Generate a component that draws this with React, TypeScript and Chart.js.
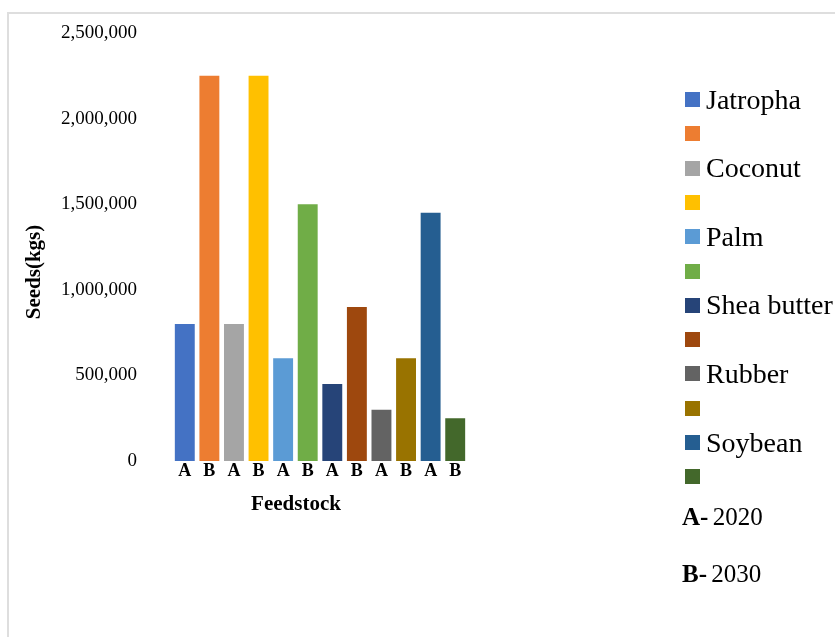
import React, { useEffect, useRef } from "react";
import { Chart, registerables } from "chart.js";

Chart.register(...registerables);

// ---- data ----
const categories = ["A", "B", "A", "B", "A", "B", "A", "B", "A", "B", "A", "B"];
const seriesNames = ["Jatropha", "", "Coconut", "", "Palm", "", "Shea butter", "", "Rubber", "", "Soybean", ""];
const seedValues = [800000, 2250000, 800000, 2250000, 600000, 1500000, 450000, 900000, 300000, 600000, 1450000, 250000];
const seriesColors = [
  "#4472C4", "#ED7D31", "#A5A5A5", "#FFC000", "#5B9BD5", "#70AD47",
  "#264478", "#9E480E", "#636363", "#997300", "#255E91", "#43682B",
];
const yMin = 0;
const yMax = 2500000;
const yStep = 500000;
const yTitle = "Seeds(kgs)";
const xTitle = "Feedstock";
const noteKeys = ["A-", "B-"];
const noteYears = ["2020", "2030"];

const SERIF = '"Liberation Serif", "Times New Roman", serif';

const overlayPlugin = {
  id: "overlayText",
  afterDraw(chart: any) {
    const ctx = chart.ctx;
    ctx.save();
    // legend
    chart.data.datasets.forEach((ds: any, i: number) => {
      const cy = 99.5 + i * 34.3;
      ctx.fillStyle = ds.backgroundColor;
      ctx.fillRect(685, Math.round(cy - 7.5), 15, 15);
      if (ds.label) {
        ctx.fillStyle = "#000";
        ctx.font = `28px ${SERIF}`;
        ctx.textAlign = "left";
        ctx.textBaseline = "alphabetic";
        ctx.fillText(ds.label, 706, cy + 9);
      }
    });
    // notes
    noteKeys.forEach((k, i) => {
      const by = 525 + i * 57;
      ctx.fillStyle = "#000";
      ctx.textAlign = "left";
      ctx.textBaseline = "alphabetic";
      ctx.font = `bold 25px ${SERIF}`;
      ctx.fillText(k, 682, by);
      const w = ctx.measureText(k + " ").width;
      ctx.font = `25px ${SERIF}`;
      ctx.fillText(noteYears[i], 682 + w - 2, by);
    });
    // x axis title
    ctx.font = `bold 21px ${SERIF}`;
    ctx.textAlign = "center";
    ctx.textBaseline = "alphabetic";
    ctx.fillStyle = "#000";
    ctx.fillText(xTitle, 296, 510);
    // y axis title
    ctx.translate(35, 272);
    ctx.rotate(-Math.PI / 2);
    ctx.textBaseline = "middle";
    ctx.fillText(yTitle, 0, 0);
    ctx.restore();
  },
};

export default function App() {
  const ref = useRef<HTMLCanvasElement | null>(null);

  useEffect(() => {
    if (!ref.current) return;
    const datasets = seedValues.map((v, i) => ({
      label: seriesNames[i],
      data: categories.map((_, j) => (j === i ? v : null)),
      backgroundColor: seriesColors[i],
      borderWidth: 0,
      skipNull: true,
      barPercentage: 0.81,
      categoryPercentage: 1,
    }));
    const chart = new Chart(ref.current, {
      type: "bar",
      data: { labels: categories, datasets },
      options: {
        responsive: false,
        animation: false,
        devicePixelRatio: 1,
        layout: { padding: { left: 20, right: 367.5, top: 33, bottom: 146 } },
        plugins: { legend: { display: false }, tooltip: { enabled: false } },
        scales: {
          x: {
            grid: { display: false, drawTicks: false },
            border: { display: false },
            ticks: {
              color: "#000",
              padding: 0,
              font: { family: SERIF, size: 18, weight: "bold" },
              autoSkip: false,
              maxRotation: 0,
            },
            afterFit: (s: any) => { s.height = 30; s.paddingLeft = 0; s.paddingRight = 0; },
          },
          y: {
            min: yMin,
            max: yMax,
            grid: { display: false, drawTicks: false },
            border: { display: false },
            ticks: {
              stepSize: yStep,
              color: "#000",
              padding: 35.5,
              font: { family: SERIF, size: 19 },
              callback: (v: any) => Number(v).toLocaleString("en-US"),
            },
            afterFit: (s: any) => { s.width = 152.5; s.paddingTop = 0; s.paddingBottom = 0; },
          },
        },
      },
      plugins: [overlayPlugin],
    });
    return () => chart.destroy();
  }, []);

  return (
    <div style={{ position: "fixed", left: 0, top: 0, width: 835, height: 637, background: "#fff", overflow: "hidden" }}>
      <div
        style={{
          position: "absolute",
          left: 7,
          top: 12,
          width: 840,
          height: 640,
          borderLeft: "2px solid #dedede",
          borderTop: "2px solid #dedede",
        }}
      />
      <canvas ref={ref} width={835} height={637} style={{ position: "absolute", left: 0, top: 0, display: "block" }} />
    </div>
  );
}
